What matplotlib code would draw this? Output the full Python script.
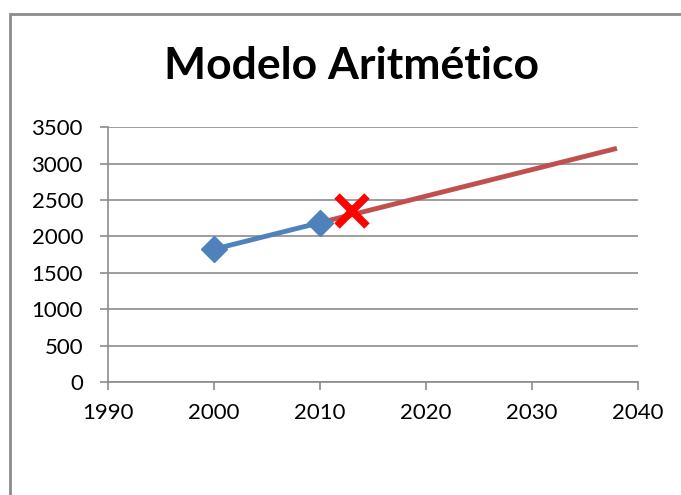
import matplotlib.pyplot as plt
from matplotlib.patches import Rectangle

# datos
anos_obs = [2000, 2010]
pob_obs = [1825, 2190]
anos_proy = [2010, 2038]
pob_proy = [2190, 3210]
ano_marca = [2013]
pob_marca = [2350]

xticks = [1990, 2000, 2010, 2020, 2030, 2040]
yticks = [0, 500, 1000, 1500, 2000, 2500, 3000, 3500]

plt.rcParams['font.family'] = ['Lato', 'DejaVu Sans']

fig = plt.figure(figsize=(6.81, 4.95), dpi=100)
ax = fig.add_axes([0.1586, 0.228, 0.7785, 0.515])

# marco del grafico
fig.patches.append(Rectangle((0.0147, -0.1), 1.2, 0.9717 + 0.1, transform=fig.transFigure,
                             fill=False, edgecolor='#8c8c8c', linewidth=2))

ax.plot(anos_proy, pob_proy, color='#C0504D', linewidth=3.5, solid_capstyle='butt', zorder=3)
ax.plot(anos_obs, pob_obs, color='#4F81BD', linewidth=3.5, marker='D', markersize=13, zorder=4)
ax.plot(ano_marca, pob_marca, linestyle='none', marker='x', color='#FF0000',
        markersize=22, markeredgewidth=5.5, zorder=5)

ax.set_xlim(1990, 2040)
ax.set_ylim(0, 3500)
ax.set_xticks(xticks)
ax.set_yticks(yticks)
ax.grid(axis='y', color='#8c8c8c', linewidth=1.2)
ax.set_axisbelow(True)
for s in ['top', 'right']:
    ax.spines[s].set_visible(False)
for s in ['left', 'bottom']:
    ax.spines[s].set_color('#8c8c8c')
    ax.spines[s].set_linewidth(1.2)
ax.tick_params(axis='both', colors='#8c8c8c', labelcolor='black', labelsize=16,
               length=6, width=1.2, direction='out')
ax.tick_params(axis='y', pad=12)
ax.tick_params(axis='x', pad=9)

fig.text(0.516, 0.866, 'Modelo Aritmético', ha='center', va='center',
         fontsize=32, fontweight='bold')

fig.savefig('out.png', dpi=100)
